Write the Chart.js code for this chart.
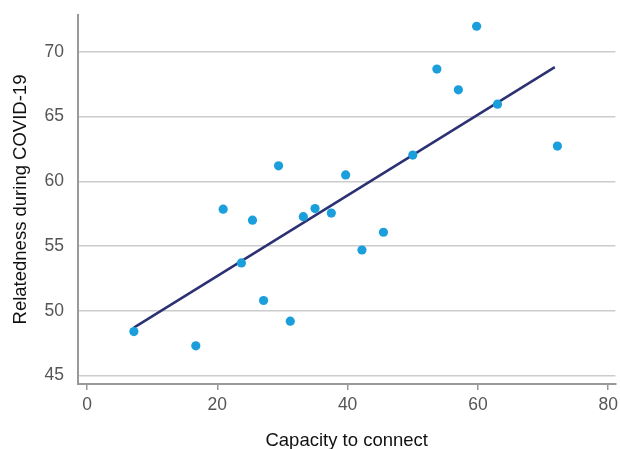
<!DOCTYPE html>
<html>
<head>
<meta charset="utf-8">
<script src="https://cdn.jsdelivr.net/npm/chart.js@4/dist/chart.umd.min.js"></script>
<style>
html,body{margin:0;padding:0;background:#fff;}
#wrap{width:620px;height:449px;position:relative;}
</style>
</head>
<body>
<div id="wrap"><canvas id="c" width="620" height="449"></canvas></div>
<script>
const capacity = [7.2, 16.7, 20.9, 25.4, 23.7, 27.1, 31.2, 29.4, 33.2, 35.0, 37.5, 39.7, 42.2, 45.5, 50.0, 53.7, 57.0, 59.8, 63.0, 72.2];
const relatedness = [48.4, 47.3, 57.85, 57.0, 53.7, 50.8, 49.2, 61.2, 57.27, 57.9, 57.55, 60.5, 54.7, 56.07, 62.03, 68.67, 67.07, 71.98, 65.96, 62.73];
const trendX = [7.2, 71.8];
const trendY = [48.7, 68.82];
const xTicks = [0, 20, 40, 60, 80];
const yTicks = [45, 50, 55, 60, 65, 70];
const xTitle = "Capacity to connect";
const yTitle = "Relatedness during COVID-19";

const pts = capacity.map((x, i) => ({x: x, y: relatedness[i]}));
const trend = trendX.map((x, i) => ({x: x, y: trendY[i]}));
const FONT = "'Liberation Sans', Arial, Helvetica, sans-serif";

new Chart(document.getElementById('c'), {
  type: 'scatter',
  data: {
    datasets: [
      {data: pts, backgroundColor: '#1a9fdc', borderColor: '#1a9fdc', pointRadius: 4.6, pointHoverRadius: 4.6, borderWidth: 0},
      {data: trend, showLine: true, borderColor: '#2b3173', borderWidth: 2.5, pointRadius: 0, fill: false}
    ]
  },
  options: {
    responsive: false,
    animation: false,
    events: [],
    layout: {padding: {top: 15, right: 0, left: 0, bottom: 0}},
    plugins: {legend: {display: false}, tooltip: {enabled: false}},
    scales: {
      x: {
        type: 'linear',
        min: -1.38, max: 81.1,
        afterBuildTicks: s => { s.ticks = xTicks.map(v => ({value: v})); },
        afterFit: s => { s.height = 65; s.paddingLeft = 0; s.paddingRight = 0; },
        grid: {drawOnChartArea: false, drawTicks: true, tickLength: 6, color: '#999', lineWidth: 1.5},
        border: {display: true, color: '#999', width: 2},
        ticks: {color: '#555', font: {family: FONT, size: 17.5}, padding: 5, maxRotation: 0},
        title: {display: true, text: xTitle, color: '#111', font: {family: FONT, size: 18.5}, padding: {top: 13, bottom: -3}}
      },
      y: {
        type: 'linear',
        min: 44.35, max: 72.85,
        afterBuildTicks: s => { s.ticks = yTicks.map(v => ({value: v})); },
        afterFit: s => { s.width = 78; s.paddingTop = 0; s.paddingBottom = 0; },
        grid: {drawTicks: false, color: '#cccccc', lineWidth: 1.5},
        border: {display: true, color: '#999', width: 2},
        ticks: {color: '#555', font: {family: FONT, size: 17.5}, padding: 14},
        title: {display: true, text: yTitle, color: '#111', font: {family: FONT, size: 18.5}, padding: {top: 10, bottom: 4}}
      }
    }
  }
});
</script>
</body>
</html>
